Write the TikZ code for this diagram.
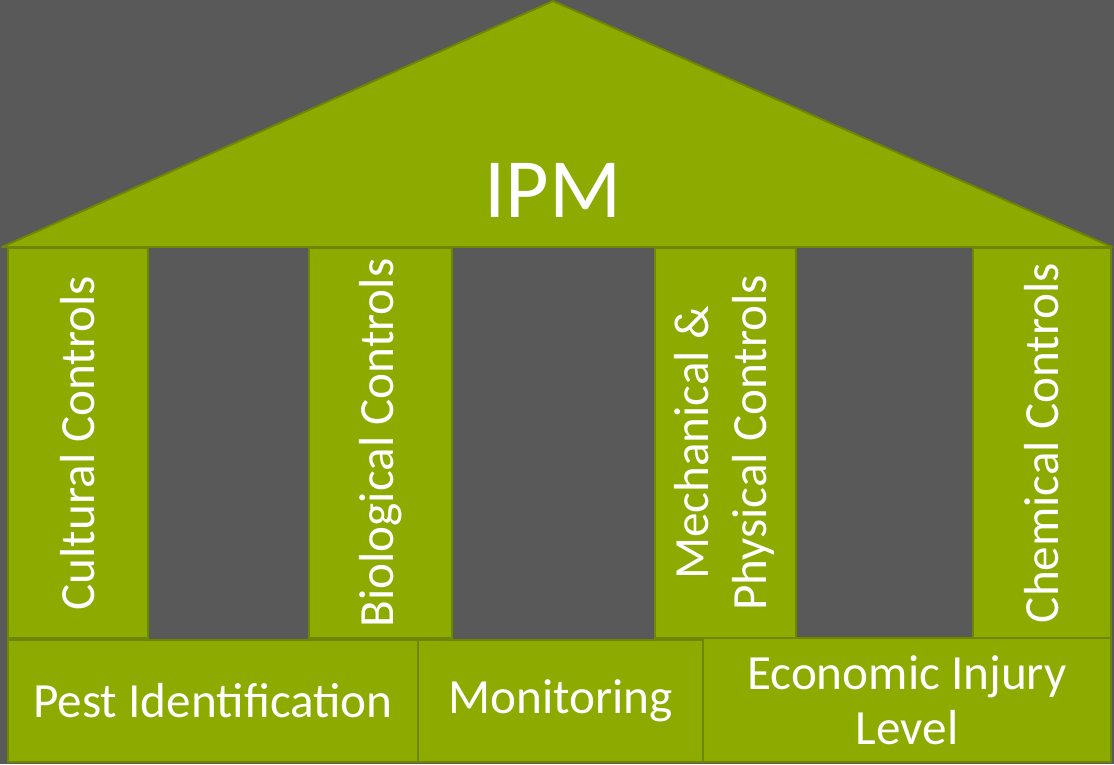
\documentclass[tikz,border=0pt]{standalone}
\usepackage{fontspec}
\setmainfont{Carlito}
\usepackage{xcolor}
\usepackage{tikz}
\usetikzlibrary{positioning, calc}
\definecolor{bgrey}{HTML}{595959}
\definecolor{ipmgreen}{HTML}{8DAA00}
\definecolor{ipmedge}{HTML}{6E8600}

\begin{document}
\begin{tikzpicture}[x=0.02cm, y=-0.02cm, every node/.style={transform shape}]
		\tikzstyle{pillar}=[draw=ipmedge, line width=1.1pt, minimum height=7.8cm, fill=ipmgreen, text=white, font=\fontsize{28}{33}\selectfont, align=center, inner sep=0pt]
		\tikzstyle{basebox}=[draw=ipmedge, line width=1.1pt, minimum height=2.44cm, fill=ipmgreen, text=white, font=\fontsize{28}{31}\selectfont, align=center, inner sep=0pt]
		
		\fill[bgrey] (0,0) rectangle (1114,764);
		\useasboundingbox (0,0) rectangle (1114,764);
		
		%% roof
		\coordinate (RL) at (2,247);
		\coordinate (RT) at (553,1);
		\coordinate (RR) at (1112,247);
		\draw[draw=ipmedge, line width=1.1pt, fill=ipmgreen, line join=round] (RL) -- (RT) -- (RR) -- cycle;
		\node[text=white, font=\fontsize{48}{48}\selectfont] (IPM) at (553,190) {IPM};
		
		%% pillars
		\node[pillar, minimum width=2.8cm] (P1) at (78,443) {\rotatebox{90}{Cultural Controls}};
		\node[pillar, minimum width=2.86cm] (P2) at (380.5,443) {\rotatebox{90}{Biological Controls}};
		\node[pillar, minimum width=2.82cm] (P3) at (725.5,443) {\rotatebox{90}{\begin{tabular}{@{}c@{}}Mechanical \&\\ Physical Controls\end{tabular}}};
		\node[pillar, minimum width=2.76cm] (P4) at (1042,443) {\rotatebox{90}{Chemical Controls}};
		
		%% foundation
		\node[basebox, minimum width=8.2cm] (B1) at (213,701) {Pest Identification};
		\node[basebox, minimum width=5.7cm] (B2) at (560.5,701) {Monitoring};
		\node[basebox, minimum width=8.16cm, minimum height=2.48cm] (B3) at (907,700) {Economic Injury\\Level};
		
		\end{tikzpicture}
\end{document}
